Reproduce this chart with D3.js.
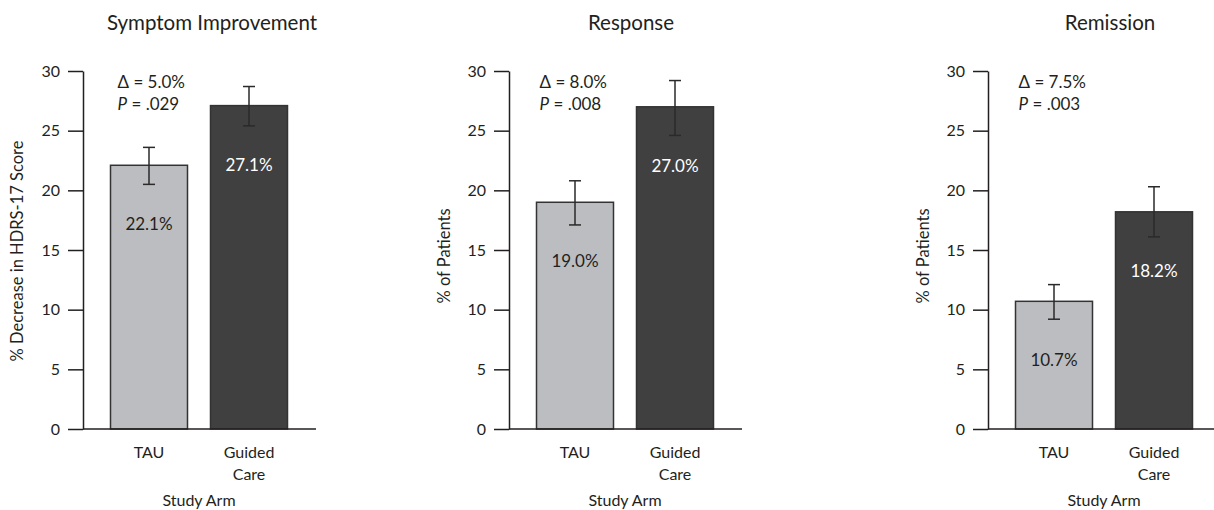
<!DOCTYPE html>
<html>
<head>
<meta charset="utf-8">
<script src="https://cdn.jsdelivr.net/npm/d3@7/dist/d3.min.js"></script>
<style>
	body { margin: 0; background: #fff; }
	svg text { font-family: Lato, "Open Sans", sans-serif; fill: #231f20; }
</style>
</head>
<body>
<div id="chart-area"></div>
<script>

// chart values
let panelTitles = ["Symptom Improvement", "Response", "Remission"];
let yTitles = ["% Decrease in HDRS-17 Score", "% of Patients", "% of Patients"];
let arms = ["TAU", "Guided Care"];
let tauValues = [22.1, 19.0, 10.7];
let guidedValues = [27.1, 27.0, 18.2];
let tauLow = [20.5, 17.1, 9.2];
let tauHigh = [23.6, 20.8, 12.1];
let guidedLow = [25.4, 24.6, 16.1];
let guidedHigh = [28.7, 29.2, 20.3];
let deltas = ["5.0%", "8.0%", "7.5%"];
let pValues = [".029", ".008", ".003"];
let yTicks = [0, 5, 10, 15, 20, 25, 30];
let xAxisTitle = "Study Arm";

// layout
let W = 1214, H = 510;
let panelLeft = [83, 509, 988];
let titleShift = [13, 6, 6];
let plotW = 233;
let plotTop = 71, plotBottom = 429;
let barFill = ["#bcbdc0", "#404040"];
let labelFill = ["#231f20", "#ffffff"];
let ink = "#231f20";

let svg = d3.select("#chart-area").append("svg")
	.attr("width", W)
	.attr("height", H);

let yScale = d3.scaleLinear()
	.domain([0, 30])
	.range([plotBottom, plotTop]);

let xScale = d3.scaleBand()
	.domain(arms)
	.range([0, plotW - 1])
	.paddingInner(0.23)
	.paddingOuter(0.275);

panelTitles.forEach((title, i) => {
	let g = svg.append("g")
		.attr("transform", `translate(${panelLeft[i]},0)`);

	let rows = [
		{arm: arms[0], value: tauValues[i], lo: tauLow[i], hi: tauHigh[i]},
		{arm: arms[1], value: guidedValues[i], lo: guidedLow[i], hi: guidedHigh[i]}
	];

	// title
	g.append("text")
		.attr("x", xScale.range()[1] / 2 + titleShift[i])
		.attr("y", 30)
		.attr("text-anchor", "middle")
		.style("font-size", "20.5px")
		.text(title);

	// bars
	g.selectAll(".bar")
		.data(rows)
		.enter()
		.append("rect")
		.attr("class", "bar")
		.attr("x", d => xScale(d.arm))
		.attr("width", xScale.bandwidth())
		.attr("y", d => yScale(d.value))
		.attr("height", d => yScale(0) - yScale(d.value))
		.attr("fill", (d, j) => barFill[j])
		.attr("stroke", "#333")
		.attr("stroke-width", 1.5);

	// error bars
	let cap = 6;
	let err = g.selectAll(".err")
		.data(rows)
		.enter()
		.append("g")
		.attr("class", "err")
		.attr("stroke", "#2a2a2a")
		.attr("stroke-width", 1.5);
	err.append("line")
		.attr("x1", d => xScale(d.arm) + xScale.bandwidth() / 2)
		.attr("x2", d => xScale(d.arm) + xScale.bandwidth() / 2)
		.attr("y1", d => yScale(d.lo))
		.attr("y2", d => yScale(d.hi));
	err.append("line")
		.attr("x1", d => xScale(d.arm) + xScale.bandwidth() / 2 - cap)
		.attr("x2", d => xScale(d.arm) + xScale.bandwidth() / 2 + cap)
		.attr("y1", d => yScale(d.hi))
		.attr("y2", d => yScale(d.hi));
	err.append("line")
		.attr("x1", d => xScale(d.arm) + xScale.bandwidth() / 2 - cap)
		.attr("x2", d => xScale(d.arm) + xScale.bandwidth() / 2 + cap)
		.attr("y1", d => yScale(d.lo))
		.attr("y2", d => yScale(d.lo));

	// value labels inside the bars
	g.selectAll(".val")
		.data(rows)
		.enter()
		.append("text")
		.attr("class", "val")
		.attr("x", d => xScale(d.arm) + xScale.bandwidth() / 2)
		.attr("y", d => yScale(d.value) + 65)
		.attr("text-anchor", "middle")
		.style("font-size", "17px")
		.style("fill", (d, j) => labelFill[j])
		.text(d => d.value.toFixed(1) + "%");

	// y axis
	let yAxis = d3.axisLeft(yScale)
		.tickValues(yTicks)
		.tickSizeInner(15)
		.tickSizeOuter(0)
		.tickPadding(8);
	let yGroup = g.append("g").call(yAxis);
	yGroup.selectAll("path, line")
		.attr("stroke", ink)
		.attr("stroke-width", 1.5);
	yGroup.selectAll("text")
		.attr("fill", null)
		.style("font-size", "16px")
		.style("font-family", "Lato, sans-serif");

	// x axis baseline
	g.append("line")
		.attr("x1", 0)
		.attr("x2", plotW)
		.attr("y1", yScale(0))
		.attr("y2", yScale(0))
		.attr("stroke", ink)
		.attr("stroke-width", 1.5);

	// category labels
	let cat = g.selectAll(".cat")
		.data(arms)
		.enter()
		.append("text")
		.attr("class", "cat")
		.attr("text-anchor", "middle")
		.style("font-size", "16px");
	cat.each(function(a) {
		let words = a.split(" ");
		words.forEach((w, k) => {
			d3.select(this).append("tspan")
				.attr("x", xScale(a) + xScale.bandwidth() / 2)
				.attr("y", 458 + k * 22)
				.text(w);
		});
	});

	g.append("text")
		.attr("x", xScale.range()[1] / 2)
		.attr("y", 506)
		.attr("text-anchor", "middle")
		.style("font-size", "16px")
		.text(xAxisTitle);

	// y axis title
	g.append("text")
		.attr("transform", `translate(${i == 0 ? -60 : -59},${(plotTop + plotBottom) / 2 + (i == 0 ? 1 : 6)}) rotate(-90)`)
		.attr("text-anchor", "middle")
		.style("font-size", "16.5px")
		.text(yTitles[i]);

	// delta and p value
	let noteX = xScale(arms[0]) + (i == 0 ? 7 : 3);
	let note = g.append("text")
		.attr("x", noteX)
		.attr("y", 88)
		.style("font-size", "17px");
	note.append("tspan").text("\u0394 = " + deltas[i]);
	let pLine = g.append("text")
		.attr("x", noteX)
		.attr("y", 110)
		.style("font-size", "17px");
	pLine.append("tspan").style("font-style", "italic").text("P");
	pLine.append("tspan").text(" = " + pValues[i]);
});

</script>
</body>
</html>
